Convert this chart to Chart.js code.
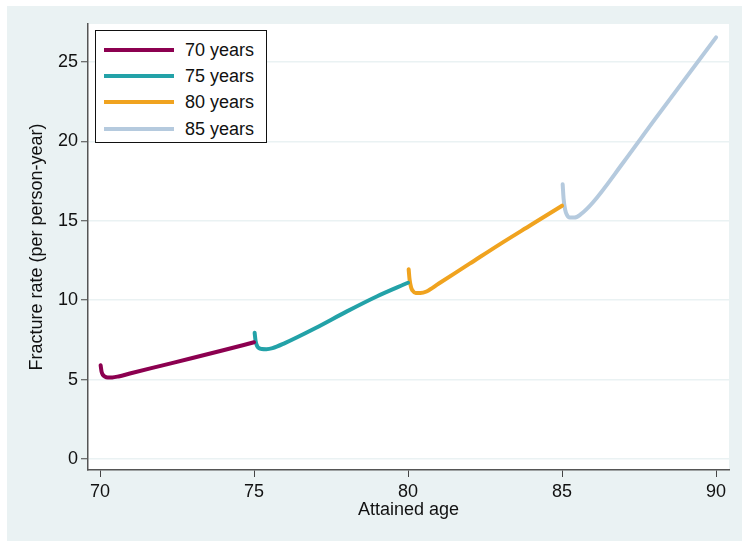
<!DOCTYPE html>
<html>
<head>
<meta charset="utf-8">
<script src="https://cdn.jsdelivr.net/npm/chart.js@4/dist/chart.umd.min.js"></script>
<style>
  html, body { margin: 0; padding: 0; background: #fff; }
  #wrap { position: relative; width: 742px; height: 541px; }
  #legend {
    position: absolute; left: 95px; top: 30px; width: 172px; height: 113px;
    border: 1px solid #111; background: #fff; box-sizing: border-box;
    font-family: "Liberation Sans", Arial, sans-serif; font-size: 18px; color: #111;
  }
  #legend .row { position: absolute; left: 0; height: 26px; width: 100%; }
  #legend .swatch { position: absolute; left: 8px; width: 70px; height: 4px; top: 11px; }
  #legend .lbl { position: absolute; left: 89px; top: 2px; line-height: 22px; }
</style>
</head>
<body>
<div id="wrap">
  <canvas id="chart" width="742" height="541"></canvas>
  <div id="legend"></div>
</div>
<script>
// series: entry age 70, 75, 80, 85
const labels = ["70 years", "75 years", "80 years", "85 years"];
const colors = ["#8c0050", "#23a2a8", "#f0a31f", "#b5cade"];

const age70 = [70.02, 70.05, 70.1, 70.15, 70.25, 70.4, 70.6, 71, 72, 73, 74, 75];
const rate70 = [5.9, 5.5, 5.28, 5.2, 5.14, 5.14, 5.2, 5.4, 5.88, 6.36, 6.85, 7.35];

const age75 = [75.02, 75.05, 75.1, 75.15, 75.25, 75.4, 75.6, 76, 77, 78, 79, 80];
const rate75 = [7.95, 7.45, 7.12, 7.0, 6.93, 6.92, 6.98, 7.3, 8.25, 9.28, 10.25, 11.1];

const age80 = [80.02, 80.05, 80.1, 80.15, 80.25, 80.4, 80.6, 81, 82, 83, 84, 85];
const rate80 = [11.95, 11.3, 10.8, 10.6, 10.45, 10.45, 10.55, 11.05, 12.3, 13.55, 14.75, 15.95];

const age85 = [85.02, 85.05, 85.1, 85.15, 85.25, 85.4, 85.6, 86, 87, 88, 89, 90];
const rate85 = [17.3, 16.4, 15.7, 15.4, 15.2, 15.2, 15.4, 16.15, 18.7, 21.35, 23.95, 26.55];

const xTicks = [70, 75, 80, 85, 90];
const yTicks = [0, 5, 10, 15, 20, 25];

const ages = [age70, age75, age80, age85];
const rates = [rate70, rate75, rate80, rate85];

const font = { family: "'Liberation Sans', Arial, sans-serif", size: 18 };

// stata-ish background: outer panel + white plot region
const bgPlugin = {
  id: 'bg',
  beforeDraw(chart) {
    const { ctx, chartArea: a } = chart;
    ctx.save();
    ctx.fillStyle = '#fff';
    ctx.fillRect(0, 0, chart.width, chart.height);
    ctx.fillStyle = '#eaf2f3';
    ctx.fillRect(7, 6, chart.width - 7, chart.height - 6);
    ctx.fillStyle = '#fff';
    ctx.fillRect(a.left, a.top, a.right - a.left, a.bottom - a.top);
    ctx.restore();
  }
};

const datasets = labels.map((l, i) => ({
  label: l,
  data: ages[i].map((x, j) => ({ x: x, y: rates[i][j] })),
  borderColor: colors[i],
  borderWidth: 4,
  borderCapStyle: 'round',
  borderJoinStyle: 'round',
  pointRadius: 0,
  cubicInterpolationMode: 'monotone',
  fill: false
}));

new Chart(document.getElementById('chart'), {
  type: 'line',
  data: { datasets },
  plugins: [bgPlugin],
  options: {
    responsive: false,
    animation: false,
    layout: { padding: { left: 0, top: 24, right: 13, bottom: 20 } },
    plugins: { legend: { display: false }, tooltip: { enabled: false } },
    scales: {
      x: {
        type: 'linear',
        min: 69.61, max: 90.42,
        afterBuildTicks: s => { s.ticks = xTicks.map(v => ({ value: v })); },
        afterFit: s => { s.height = 51; },
        border: { display: true, color: '#555', width: 1.5 },
        grid: { drawOnChartArea: false, drawTicks: true, tickLength: 7, tickColor: '#444', tickWidth: 1 },
        ticks: { font, color: '#111', padding: 4, maxRotation: 0 },
        title: { display: true, text: 'Attained age', font, color: '#111', padding: { top: 0, bottom: 0 } }
      },
      y: {
        min: -0.69, max: 27.39,
        afterBuildTicks: s => { s.ticks = yTicks.map(v => ({ value: v })); },
        afterFit: s => { s.width = 88; },
        border: { display: true, color: '#555', width: 1.5 },
        grid: { color: '#eaf2f3', lineWidth: 1.5, drawTicks: true, tickLength: 7, tickColor: '#444', tickWidth: 1 },
        ticks: { font, color: '#111', padding: 3 },
        title: { display: true, text: 'Fracture rate (per person-year)', font, color: '#111', padding: { top: 26, bottom: 0 } }
      }
    }
  }
});

// legend box drawn as html text
const legendEl = document.getElementById('legend');
labels.forEach((l, i) => {
  const row = document.createElement('div');
  row.className = 'row';
  row.style.top = (6 + i * 26.2) + 'px';
  row.innerHTML = `<span class="swatch" style="background:${colors[i]}"></span><span class="lbl">${l}</span>`;
  legendEl.appendChild(row);
});
</script>
</body>
</html>
